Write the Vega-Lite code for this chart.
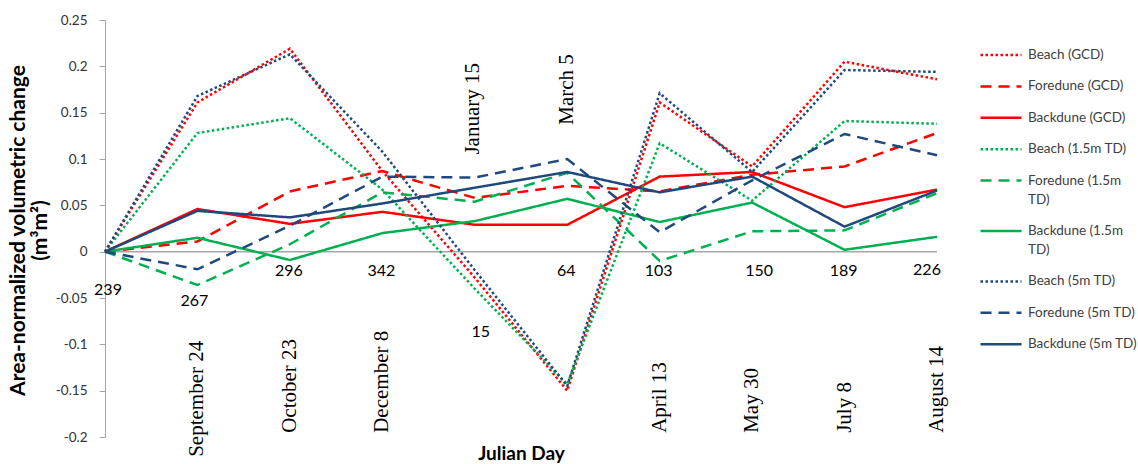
{
  "$schema": "https://vega.github.io/schema/vega-lite/v6.json",
  "width": 832,
  "height": 417,
  "autosize": {"type": "none"},
  "padding": {"left": 105, "top": 20, "right": 201, "bottom": 27},
  "background": "white",
  "config": {"view": {"stroke": null}, "style": {"guide-label": {"lineHeight": 19}}},
  "datasets": {
    "series": [
      {"day":"239","series":"Beach (GCD)","value":0},{"day":"267","series":"Beach (GCD)","value":0.161},{"day":"296","series":"Beach (GCD)","value":0.219},{"day":"342","series":"Beach (GCD)","value":0.087},{"day":"15","series":"Beach (GCD)","value":-0.028},{"day":"64","series":"Beach (GCD)","value":-0.150},{"day":"103","series":"Beach (GCD)","value":0.161},{"day":"150","series":"Beach (GCD)","value":0.092},{"day":"189","series":"Beach (GCD)","value":0.205},{"day":"226","series":"Beach (GCD)","value":0.186},
      {"day":"239","series":"Foredune (GCD)","value":0},{"day":"267","series":"Foredune (GCD)","value":0.011},{"day":"296","series":"Foredune (GCD)","value":0.065},{"day":"342","series":"Foredune (GCD)","value":0.087},{"day":"15","series":"Foredune (GCD)","value":0.058},{"day":"64","series":"Foredune (GCD)","value":0.071},{"day":"103","series":"Foredune (GCD)","value":0.065},{"day":"150","series":"Foredune (GCD)","value":0.083},{"day":"189","series":"Foredune (GCD)","value":0.092},{"day":"226","series":"Foredune (GCD)","value":0.128},
      {"day":"239","series":"Backdune (GCD)","value":0},{"day":"267","series":"Backdune (GCD)","value":0.046},{"day":"296","series":"Backdune (GCD)","value":0.030},{"day":"342","series":"Backdune (GCD)","value":0.043},{"day":"15","series":"Backdune (GCD)","value":0.029},{"day":"64","series":"Backdune (GCD)","value":0.029},{"day":"103","series":"Backdune (GCD)","value":0.081},{"day":"150","series":"Backdune (GCD)","value":0.086},{"day":"189","series":"Backdune (GCD)","value":0.048},{"day":"226","series":"Backdune (GCD)","value":0.067},
      {"day":"239","series":"Beach (1.5m TD)","value":0},{"day":"267","series":"Beach (1.5m TD)","value":0.128},{"day":"296","series":"Beach (1.5m TD)","value":0.144},{"day":"342","series":"Beach (1.5m TD)","value":0.067},{"day":"15","series":"Beach (1.5m TD)","value":-0.040},{"day":"64","series":"Beach (1.5m TD)","value":-0.143},{"day":"103","series":"Beach (1.5m TD)","value":0.117},{"day":"150","series":"Beach (1.5m TD)","value":0.055},{"day":"189","series":"Beach (1.5m TD)","value":0.141},{"day":"226","series":"Beach (1.5m TD)","value":0.138},
      {"day":"239","series":"Foredune (1.5m TD)","value":0},{"day":"267","series":"Foredune (1.5m TD)","value":-0.036},{"day":"296","series":"Foredune (1.5m TD)","value":0.008},{"day":"342","series":"Foredune (1.5m TD)","value":0.064},{"day":"15","series":"Foredune (1.5m TD)","value":0.054},{"day":"64","series":"Foredune (1.5m TD)","value":0.085},{"day":"103","series":"Foredune (1.5m TD)","value":-0.010},{"day":"150","series":"Foredune (1.5m TD)","value":0.022},{"day":"189","series":"Foredune (1.5m TD)","value":0.023},{"day":"226","series":"Foredune (1.5m TD)","value":0.063},
      {"day":"239","series":"Backdune (1.5m TD)","value":0},{"day":"267","series":"Backdune (1.5m TD)","value":0.015},{"day":"296","series":"Backdune (1.5m TD)","value":-0.009},{"day":"342","series":"Backdune (1.5m TD)","value":0.020},{"day":"15","series":"Backdune (1.5m TD)","value":0.033},{"day":"64","series":"Backdune (1.5m TD)","value":0.057},{"day":"103","series":"Backdune (1.5m TD)","value":0.032},{"day":"150","series":"Backdune (1.5m TD)","value":0.053},{"day":"189","series":"Backdune (1.5m TD)","value":0.002},{"day":"226","series":"Backdune (1.5m TD)","value":0.016},
      {"day":"239","series":"Beach (5m TD)","value":0},{"day":"267","series":"Beach (5m TD)","value":0.168},{"day":"296","series":"Beach (5m TD)","value":0.213},{"day":"342","series":"Beach (5m TD)","value":0.108},{"day":"15","series":"Beach (5m TD)","value":-0.020},{"day":"64","series":"Beach (5m TD)","value":-0.145},{"day":"103","series":"Beach (5m TD)","value":0.171},{"day":"150","series":"Beach (5m TD)","value":0.086},{"day":"189","series":"Beach (5m TD)","value":0.196},{"day":"226","series":"Beach (5m TD)","value":0.194},
      {"day":"239","series":"Foredune (5m TD)","value":0},{"day":"267","series":"Foredune (5m TD)","value":-0.019},{"day":"296","series":"Foredune (5m TD)","value":0.028},{"day":"342","series":"Foredune (5m TD)","value":0.081},{"day":"15","series":"Foredune (5m TD)","value":0.080},{"day":"64","series":"Foredune (5m TD)","value":0.100},{"day":"103","series":"Foredune (5m TD)","value":0.021},{"day":"150","series":"Foredune (5m TD)","value":0.077},{"day":"189","series":"Foredune (5m TD)","value":0.127},{"day":"226","series":"Foredune (5m TD)","value":0.104},
      {"day":"239","series":"Backdune (5m TD)","value":0},{"day":"267","series":"Backdune (5m TD)","value":0.044},{"day":"296","series":"Backdune (5m TD)","value":0.037},{"day":"342","series":"Backdune (5m TD)","value":0.052},{"day":"15","series":"Backdune (5m TD)","value":0.069},{"day":"64","series":"Backdune (5m TD)","value":0.086},{"day":"103","series":"Backdune (5m TD)","value":0.064},{"day":"150","series":"Backdune (5m TD)","value":0.081},{"day":"189","series":"Backdune (5m TD)","value":0.027},{"day":"226","series":"Backdune (5m TD)","value":0.066}
    ],
    "days": [
      {"day":"239","date":null},
      {"day":"267","date":"September 24"},
      {"day":"296","date":"October 23"},
      {"day":"342","date":"December 8"},
      {"day":"15","date":"January 15"},
      {"day":"64","date":"March 5"},
      {"day":"103","date":"April 13"},
      {"day":"150","date":"May 30"},
      {"day":"189","date":"July 8"},
      {"day":"226","date":"August 14"}
    ]
  },
  "layer": [
    {
      "data": {"values": [{}]},
      "mark": {"type": "rule", "color": "#A6A6A6", "strokeWidth": 1.5},
      "encoding": {"y": {"datum": 0, "type": "quantitative"}}
    },
    {
      "data": {"name": "series"},
      "mark": {"type": "line", "strokeWidth": 2.5},
      "encoding": {
        "x": {
          "field": "day", "type": "ordinal",
          "scale": {"type": "point", "domain": ["239","267","296","342","15","64","103","150","189","226"], "padding": 0},
          "axis": {"labels": false, "ticks": false, "domain": false, "title": "Julian Day", "titleFont": "Lato", "titleFontSize": 19, "titleFontWeight": "bold", "titleColor": "#000000", "titlePadding": 7}
        },
        "y": {
          "field": "value", "type": "quantitative",
          "scale": {"domain": [-0.2, 0.25], "nice": false, "zero": false},
          "axis": {
            "values": [-0.2, -0.15, -0.1, -0.05, 0, 0.05, 0.1, 0.15, 0.2, 0.25],
            "labelExpr": "'' + datum.value",
            "grid": false,
            "domainColor": "#A6A6A6", "tickColor": "#A6A6A6", "tickSize": 6, "labelPadding": 12,
            "labelFont": "Lato", "labelFontSize": 13.5, "labelColor": "#333333",
            "title": ["Area-normalized volumetric change", "(m³m²)"],
            "titleFont": "Lato", "titleFontSize": 21, "titleFontWeight": "bold", "titleColor": "#000000",
            "titleAngle": 270, "titleX": -87, "titleY": 210, "titleAlign": "center", "titleBaseline": "middle", "titleLineHeight": 22
          }
        },
        "color": {
          "field": "series", "type": "nominal",
          "scale": {
            "domain": ["Beach (GCD)","Foredune (GCD)","Backdune (GCD)","Beach (1.5m TD)","Foredune (1.5m TD)","Backdune (1.5m TD)","Beach (5m TD)","Foredune (5m TD)","Backdune (5m TD)"],
            "range": ["#FF0000","#FF0000","#FF0000","#00B050","#00B050","#00B050","#1F497D","#1F497D","#1F497D"]
          },
          "legend": {
            "orient": "none", "legendX": 874, "legendY": 13, "title": null, "padding": 0,
            "symbolType": "stroke", "symbolSize": 1681, "symbolStrokeWidth": 2.5,
            "labelFont": "Lato", "labelFontSize": 13.5, "labelColor": "#404040", "labelOffset": 5, "labelLimit": 200,
            "rowPadding": 2.4,
            "labelExpr": "datum.label == 'Foredune (1.5m TD)' ? ['Foredune (1.5m', 'TD)'] : datum.label == 'Backdune (1.5m TD)' ? ['Backdune (1.5m', 'TD)'] : datum.label"
          }
        },
        "strokeDash": {
          "field": "series", "type": "nominal",
          "scale": {
            "domain": ["Beach (GCD)","Foredune (GCD)","Backdune (GCD)","Beach (1.5m TD)","Foredune (1.5m TD)","Backdune (1.5m TD)","Beach (5m TD)","Foredune (5m TD)","Backdune (5m TD)"],
            "range": [[2.5,2.5],[11,7],[1,0],[2.5,2.5],[11,7],[1,0],[2.5,2.5],[11,7],[1,0]]
          }
        }
      }
    },
    {
      "data": {"name": "days"},
      "transform": [{"filter": "indexof(['296','342','103','150','189','226'], datum.day) >= 0"}],
      "mark": {"type": "text", "angle": 270, "align": "left", "baseline": "middle", "font": "Liberation Serif", "fontSize": 21, "color": "#000000"},
      "encoding": {"x": {"field": "day", "type": "ordinal"}, "y": {"datum": -0.1955}, "text": {"field": "date"}}
    },
    {
      "data": {"name": "days"},
      "transform": [{"filter": "datum.day == '267'"}],
      "mark": {"type": "text", "angle": 270, "align": "left", "baseline": "middle", "font": "Liberation Serif", "fontSize": 21, "color": "#000000"},
      "encoding": {"x": {"field": "day", "type": "ordinal"}, "y": {"datum": -0.2214}, "text": {"field": "date"}}
    },
    {
      "data": {"name": "days"},
      "transform": [{"filter": "datum.day == '15'"}],
      "mark": {"type": "text", "angle": 270, "align": "left", "baseline": "middle", "font": "Liberation Serif", "fontSize": 21, "color": "#000000", "dx": 0, "dy": -2},
      "encoding": {"x": {"field": "day", "type": "ordinal"}, "y": {"datum": 0.1048}, "text": {"field": "date"}}
    },
    {
      "data": {"name": "days"},
      "transform": [{"filter": "datum.day == '64'"}],
      "mark": {"type": "text", "angle": 270, "align": "left", "baseline": "middle", "font": "Liberation Serif", "fontSize": 21, "color": "#000000"},
      "encoding": {"x": {"field": "day", "type": "ordinal"}, "y": {"datum": 0.137}, "text": {"field": "date"}}
    },
    {
      "data": {"name": "days"},
      "transform": [{"filter": "indexof(['296','342','64','103','189'], datum.day) >= 0"}],
      "mark": {"type": "text", "align": "center", "baseline": "middle", "font": "Lato", "fontSize": 16, "color": "#000000", "dx": -1},
      "encoding": {"x": {"field": "day", "type": "ordinal"}, "y": {"datum": -0.0205}, "text": {"field": "day"}}
    },
    {
      "data": {"name": "days"},
      "transform": [{"filter": "datum.day == '150'"}],
      "mark": {"type": "text", "align": "center", "baseline": "middle", "font": "Lato", "fontSize": 16, "color": "#000000", "dx": 7},
      "encoding": {"x": {"field": "day", "type": "ordinal"}, "y": {"datum": -0.0205}, "text": {"field": "day"}}
    },
    {
      "data": {"name": "days"},
      "transform": [{"filter": "datum.day == '226'"}],
      "mark": {"type": "text", "align": "center", "baseline": "middle", "font": "Lato", "fontSize": 16, "color": "#000000", "dx": -10},
      "encoding": {"x": {"field": "day", "type": "ordinal"}, "y": {"datum": -0.0195}, "text": {"field": "day"}}
    },
    {
      "data": {"name": "days"},
      "transform": [{"filter": "datum.day == '239'"}],
      "mark": {"type": "text", "align": "center", "baseline": "middle", "font": "Lato", "fontSize": 16, "color": "#000000", "dx": 3},
      "encoding": {"x": {"field": "day", "type": "ordinal"}, "y": {"datum": -0.041}, "text": {"field": "day"}}
    },
    {
      "data": {"name": "days"},
      "transform": [{"filter": "datum.day == '267'"}],
      "mark": {"type": "text", "align": "center", "baseline": "middle", "font": "Lato", "fontSize": 16, "color": "#000000", "dx": -3},
      "encoding": {"x": {"field": "day", "type": "ordinal"}, "y": {"datum": -0.053}, "text": {"field": "day"}}
    },
    {
      "data": {"name": "days"},
      "transform": [{"filter": "datum.day == '15'"}],
      "mark": {"type": "text", "align": "center", "baseline": "middle", "font": "Lato", "fontSize": 16, "color": "#000000", "dx": 6},
      "encoding": {"x": {"field": "day", "type": "ordinal"}, "y": {"datum": -0.0864}, "text": {"field": "day"}}
    }
  ]
}
